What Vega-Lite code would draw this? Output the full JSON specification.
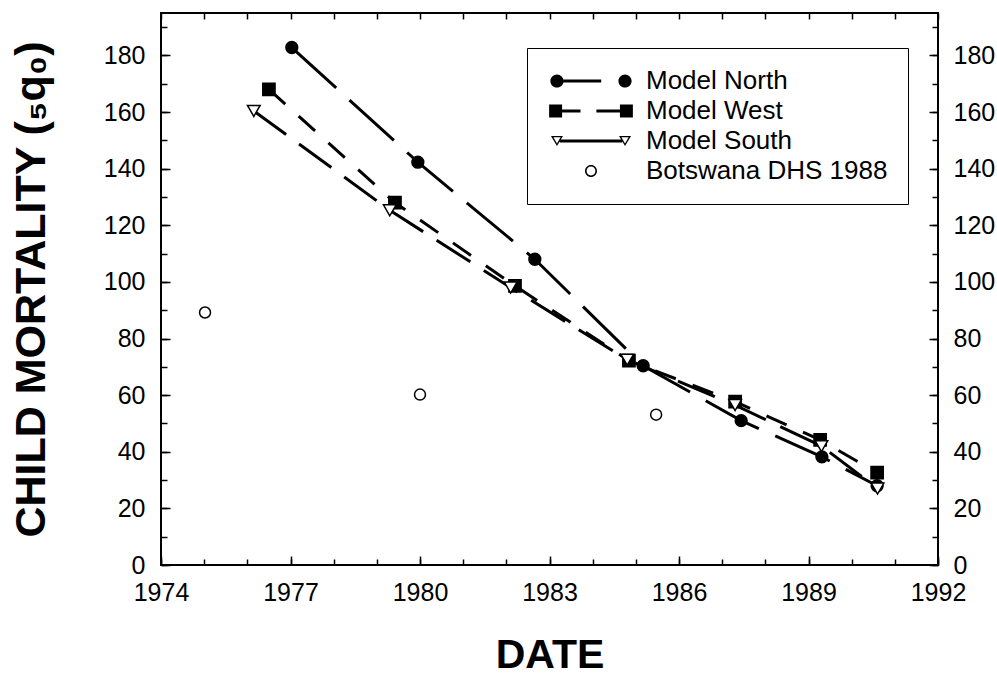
{
  "$schema": "https://vega.github.io/schema/vega-lite/v6.json",
  "width": 777,
  "height": 552,
  "autosize": {"type": "none"},
  "padding": {"left": 161, "top": 13, "right": 59, "bottom": 110},
  "background": "white",
  "config": {
    "view": {"stroke": "black", "strokeWidth": 2},
    "font": "Liberation Sans",
    "axis": {
      "domain": false,
      "grid": false,
      "tickColor": "black",
      "tickWidth": 1.5,
      "labelFont": "Liberation Sans",
      "labelFontSize": 25,
      "labelColor": "black",
      "titleFont": "Liberation Sans",
      "titleFontWeight": "bold",
      "titleColor": "black"
    }
  },
  "datasets": {
    "d": [
      {"series": "Model North", "date": 1977.03, "q": 182.8},
      {"series": "Model North", "date": 1979.95, "q": 142.3},
      {"series": "Model North", "date": 1982.66, "q": 108},
      {"series": "Model North", "date": 1985.17, "q": 70.4},
      {"series": "Model North", "date": 1987.44, "q": 51},
      {"series": "Model North", "date": 1989.31, "q": 38.2},
      {"series": "Model North", "date": 1990.59, "q": 28},
      {"series": "Model West", "date": 1976.5, "q": 168},
      {"series": "Model West", "date": 1979.42, "q": 128},
      {"series": "Model West", "date": 1982.2, "q": 98.6},
      {"series": "Model West", "date": 1984.84, "q": 72.2},
      {"series": "Model West", "date": 1987.3, "q": 57.7},
      {"series": "Model West", "date": 1989.27, "q": 44.2},
      {"series": "Model West", "date": 1990.59, "q": 32.6},
      {"series": "Model South", "date": 1976.15, "q": 160.4},
      {"series": "Model South", "date": 1979.3, "q": 125.3},
      {"series": "Model South", "date": 1982.1, "q": 98},
      {"series": "Model South", "date": 1984.8, "q": 72.5},
      {"series": "Model South", "date": 1987.3, "q": 56.5},
      {"series": "Model South", "date": 1989.3, "q": 42},
      {"series": "Model South", "date": 1990.6, "q": 27},
      {"series": "Botswana DHS 1988", "date": 1975.02, "q": 89.2},
      {"series": "Botswana DHS 1988", "date": 1980.0, "q": 60.2},
      {"series": "Botswana DHS 1988", "date": 1985.47, "q": 53.1}
    ]
  },
  "layer": [
    {
      "data": {"name": "d"},
      "transform": [{"filter": "datum.series !== 'Botswana DHS 1988'"}],
      "mark": {"type": "line", "strokeWidth": 3, "color": "black"},
      "encoding": {
        "x": {
          "field": "date", "type": "quantitative",
          "scale": {"domain": [1974, 1992], "nice": false, "zero": false},
          "axis": {
            "orient": "bottom",
            "values": [1974, 1977, 1980, 1983, 1986, 1989, 1992],
            "format": "d",
            "tickSize": -9,
            "labelPadding": 24,
            "labelFlush": false,
            "title": "DATE",
            "titleFontSize": 41,
            "titlePadding": 30
          }
        },
        "y": {
          "field": "q", "type": "quantitative",
          "scale": {"domain": [0, 195], "nice": false},
          "axis": {
            "orient": "left",
            "values": [0, 20, 40, 60, 80, 100, 120, 140, 160, 180],
            "tickSize": -9,
            "labelPadding": 25,
            "labelFlush": false,
            "title": "CHILD MORTALITY (₅q₀)",
            "titleFontSize": 43,
            "titlePadding": 50
          }
        },
        "detail": {"field": "series"},
        "strokeDash": {
          "field": "series", "type": "nominal",
          "scale": {"domain": ["Model North", "Model West", "Model South"], "range": [[60, 18], [22, 18], [40, 16]]},
          "legend": null
        }
      }
    },
    {
      "data": {"name": "d"},
      "transform": [{"filter": "datum.series !== 'Botswana DHS 1988'"}],
      "mark": {"type": "point", "stroke": "black", "strokeWidth": 1.5, "opacity": 1},
      "encoding": {
        "x": {
          "field": "date", "type": "quantitative",
          "axis": {"orient": "top", "values": [1974,1975,1976,1977,1978,1979,1980,1981,1982,1983,1984,1985,1986,1987,1988,1989,1990,1991,1992], "tickSize": -6, "labels": false, "title": null}
        },
        "y": {
          "field": "q", "type": "quantitative",
          "axis": {"orient": "right", "values": [0, 20, 40, 60, 80, 100, 120, 140, 160, 180], "tickSize": -9, "labelPadding": 24, "labelFlush": false, "title": null}
        },
        "shape": {
          "field": "series", "type": "nominal",
          "scale": {"domain": ["Model North", "Model West", "Model South"], "range": ["circle", "square", "triangle-down"]},
          "legend": null
        },
        "fill": {
          "field": "series", "type": "nominal",
          "scale": {"domain": ["Model North", "Model West", "Model South"], "range": ["black", "black", "white"]},
          "legend": null
        },
        "size": {
          "field": "series", "type": "nominal",
          "scale": {"domain": ["Model North", "Model West", "Model South"], "range": [140, 160, 110]},
          "legend": null
        }
      }
    },
    {
      "data": {"name": "d"},
      "transform": [{"filter": "datum.series === 'Botswana DHS 1988'"}],
      "mark": {"type": "point", "shape": "circle", "fill": "white", "stroke": "black", "strokeWidth": 1.5, "size": 120, "opacity": 1},
      "encoding": {
        "x": {
          "field": "date", "type": "quantitative",
          "axis": {"orient": "bottom", "values": [1974,1975,1976,1977,1978,1979,1980,1981,1982,1983,1984,1985,1986,1987,1988,1989,1990,1991,1992], "tickSize": -6, "labels": false, "title": null}
        },
        "y": {
          "field": "q", "type": "quantitative",
          "axis": {"orient": "left", "values": [0,10,20,30,40,50,60,70,80,90,100,110,120,130,140,150,160,170,180,190], "tickSize": -6, "labels": false, "title": null}
        }
      }
    },
    {
      "data": {"name": "d"},
      "mark": {"type": "point", "filled": true, "color": "black", "opacity": 0, "size": 144, "strokeWidth": 0},
      "encoding": {
        "x": {"field": "date", "type": "quantitative", "axis": null},
        "y": {
          "field": "q", "type": "quantitative",
          "axis": {"orient": "right", "values": [0,10,20,30,40,50,60,70,80,90,100,110,120,130,140,150,160,170,180,190], "tickSize": -6, "labels": false, "title": null}
        },
        "shape": {
          "field": "series", "type": "nominal",
          "scale": {
            "domain": ["Model North", "Model West", "Model South", "Botswana DHS 1988"],
            "range": [
              "M -6.77 0 A 1.1 1.1 0 1 1 -4.57 0 A 1.1 1.1 0 1 1 -6.77 0 Z M -4.7 -0.25 H 1.7 V 0.25 H -4.7 Z M 4.57 0 A 1.1 1.1 0 1 1 6.77 0 A 1.1 1.1 0 1 1 4.57 0 Z",
              "M -6.98 -1.08 H -4.82 V 1.08 H -6.98 Z M -4.82 -0.25 H -1.75 V 0.25 H -4.82 Z M 0.9 -0.25 H 4.82 V 0.25 H 0.9 Z M 4.82 -1.08 H 6.98 V 1.08 H 4.82 Z",
              "M -6.67 -0.85 L -4.67 -0.85 L -5.67 0.85 Z M -6.27 -0.62 L -5.67 0.4 L -5.07 -0.62 Z M -5.2 -0.25 H 5.2 V 0.25 H -5.2 Z M 4.67 -0.85 L 6.67 -0.85 L 5.67 0.85 Z M 5.07 -0.62 L 5.67 0.4 L 6.27 -0.62 Z",
              "M -1 0 A 1 1 0 1 1 1 0 A 1 1 0 1 1 -1 0 Z M -0.74 0 A 0.74 0.74 0 1 0 0.74 0 A 0.74 0.74 0 1 0 -0.74 0 Z"
            ]
          },
          "legend": {
            "orient": "none",
            "legendX": 366,
            "legendY": 35,
            "title": null,
            "strokeColor": "black",
            "padding": 20,
            "rowPadding": 4,
            "labelFont": "Liberation Sans",
            "labelFontSize": 26,
            "labelColor": "black",
            "labelLimit": 400,
            "symbolSize": 144,
            "symbolOpacity": 1,
            "symbolFillColor": "black",
            "symbolStrokeWidth": 0,
            "symbolOffset": 31,
            "labelOffset": 42,
            "encode": {
              "symbols": {"update": {"opacity": {"value": 1}, "fill": {"value": "black"}, "fillOpacity": {"value": 1}}},
              "legend": {"update": {"strokeWidth": {"value": 2}}}
            }
          }
        }
      }
    }
  ],
  "resolve": {"scale": {"shape": "independent"}}
}
